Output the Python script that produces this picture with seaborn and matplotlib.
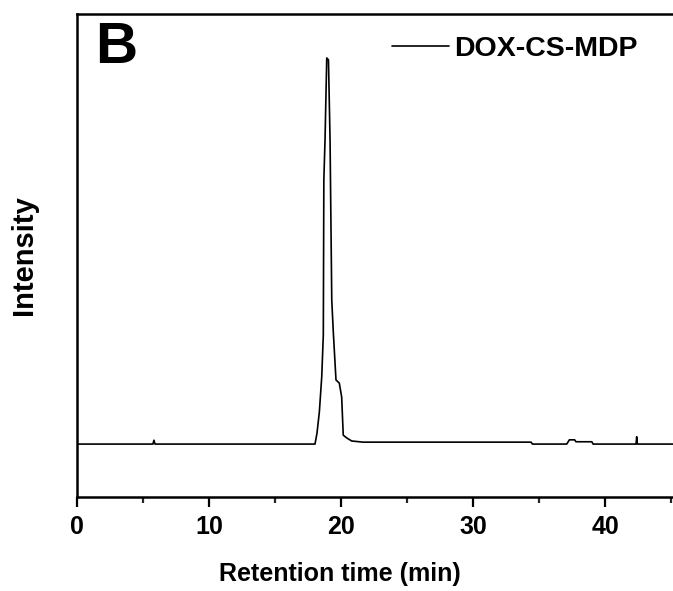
import matplotlib
matplotlib.use("Agg")
import matplotlib.pyplot as plt
from matplotlib.ticker import MultipleLocator
import seaborn as sns
import pandas as pd

# === DATA ===
time_min = [0.0, 5.75, 5.83, 5.91, 18.03, 18.18, 18.36, 18.54, 18.66, 18.70,
            18.79, 18.92, 19.05, 19.17, 19.30, 19.42, 19.62, 19.87, 20.05,
            20.17, 20.43, 20.81, 21.67, 34.4, 34.5, 37.1, 37.3, 37.7, 37.8,
            39.0, 39.1, 42.35, 42.4, 42.45, 45.2]
intensity = [0, 0, 1.0, 0, 0, 2.8, 8.3, 17.4, 28.2, 68.4,
             78.8, 100, 99.5, 78.8, 37.3, 28.8, 16.6, 15.8, 12.2,
             2.3, 1.6, 0.8, 0.5, 0.5, 0, 0, 1.1, 1.1, 0.6,
             0.6, 0, 0, 1.9, 0, 0]
sample = "DOX-CS-MDP"
panel = "B"

df = pd.DataFrame({"time": time_min, "intensity": intensity, "sample": sample})

# === STYLE ===
sns.set_theme(style="ticks")
plt.rcParams["font.family"] = ["Liberation Sans", "DejaVu Sans"]
plt.rcParams["font.weight"] = "bold"
plt.rcParams["text.color"] = "black"
plt.rcParams["axes.labelcolor"] = "black"

fig = plt.figure(figsize=(6.73, 5.91), dpi=100)
ax = fig.add_axes([0.1144, 0.1591, 0.8856, 0.8173])

sns.lineplot(data=df, x="time", y="intensity", hue="sample", palette=["black"],
             estimator=None, sort=False, linewidth=1.2, ax=ax)

ax.set_xlim(0, 45.15)
ax.set_ylim(-13.7, 111.4)
ax.xaxis.set_major_locator(MultipleLocator(10))
ax.xaxis.set_minor_locator(MultipleLocator(5))
ax.set_yticks([])
ax.tick_params(axis="x", which="major", direction="out", length=7, width=1.6,
               labelsize=18, pad=6, colors="black")
ax.tick_params(axis="x", which="minor", direction="out", length=4, width=1.6)
for side in ["left", "top", "bottom"]:
    ax.spines[side].set_linewidth(1.8)
    ax.spines[side].set_color("black")
ax.spines["right"].set_visible(False)

ax.set_xlabel("Retention time (min)", fontsize=18, fontweight="bold")
ax.xaxis.set_label_coords(0.441, -0.135)
ax.set_ylabel("Intensity", fontsize=21, fontweight="bold", labelpad=28)

ax.text(0.03, 0.985, panel, transform=ax.transAxes, fontsize=42, fontweight="bold",
        va="top", ha="left")

leg = ax.legend(loc="upper left", bbox_to_anchor=(0.485, 1.008), frameon=False,
                handlelength=2.0, handletextpad=0.2, fontsize=20.5)
for t in leg.get_texts():
    t.set_fontweight("bold")

fig.savefig("out.png", dpi=100)
